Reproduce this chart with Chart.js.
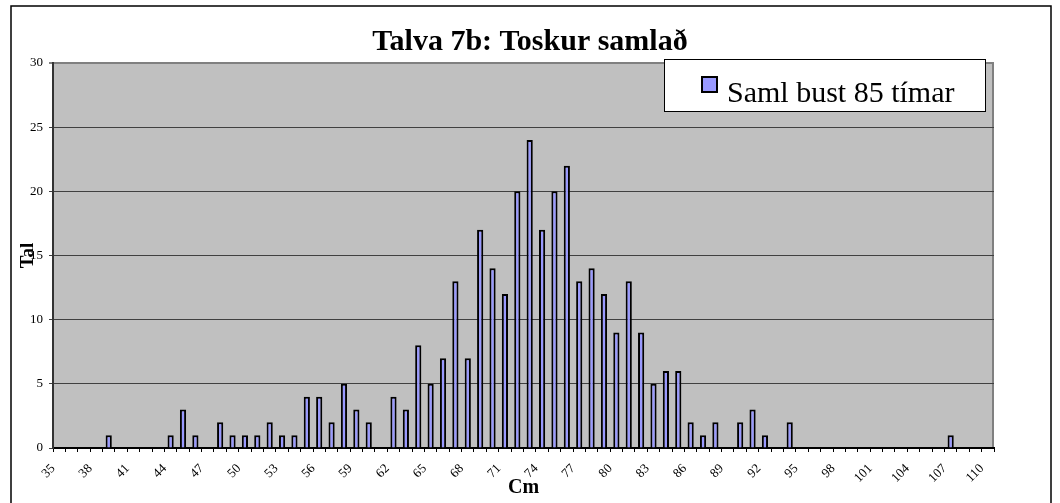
<!DOCTYPE html>
<html lang="is">
<head>
<meta charset="utf-8">
<title>Talva 7b: Toskur samlað</title>
<script src="https://cdn.jsdelivr.net/npm/chart.js@4.4.0/dist/chart.umd.min.js"></script>
<style>
  html, body { margin: 0; padding: 0; background: #fff; }
</style>
</head>
<body>
<canvas id="graf" width="1060" height="503"></canvas>
<script>
// Lengdarflokkar (cm)
const flokkar = ['35','36','37','38','39','40','41','42','43','44',
  '45','46','47','48','49','50','51','52','53','54',
  '55','56','57','58','59','60','61','62','63','64',
  '65','66','67','68','69','70','71','72','73','74',
  '75','76','77','78','79','80','81','82','83','84',
  '85','86','87','88','89','90','91','92','93','94',
  '95','96','97','98','99','100','101','102','103','104',
  '105','106','107','108','109','110'];

// Fjöldi fiska í hverjum flokki
const samlBust = [0,0,0,0,1,0,0,0,0,1,
  3,1,0,2,1,1,1,2,1,1,
  4,4,2,5,3,2,0,4,3,8,
  5,7,13,7,17,14,12,20,24,17,
  20,22,13,14,12,9,13,9,5,6,
  6,2,1,2,0,2,3,1,0,2,
  0,0,0,0,0,0,0,0,0,0,
  0,0,1,0,0,0];

// Merki sem sjást á x-ás
const xMerki = ['35','38','41','44','47','50','53','56','59','62','65','68','71',
  '74','77','80','83','86','89','92','95','98','101','104','107','110'];

const yMerki = [0, 5, 10, 15, 20, 25, 30];

const letur = '"Liberation Serif", "Times New Roman", serif';
Chart.defaults.font.family = letur;
Chart.defaults.color = '#000';

// Grár bakgrunnur, rammi og skýringarkassi (eins og í Excel)
const excelStill = {
  id: 'excelStill',
  beforeDraw(chart) {
    const { ctx, chartArea: a } = chart;
    ctx.save();
    ctx.fillStyle = '#fff';
    ctx.fillRect(0, 0, chart.width, chart.height);
    ctx.fillStyle = '#c0c0c0';
    ctx.fillRect(a.left, a.top, a.right - a.left, a.bottom - a.top);
    ctx.strokeStyle = '#808080';
    ctx.lineWidth = 2;
    ctx.beginPath();
    ctx.moveTo(a.right - 1, a.top);
    ctx.lineTo(a.right - 1, a.bottom);
    ctx.stroke();
    ctx.restore();
  },
  afterDraw(chart) {
    const { ctx } = chart;
    const ds = chart.data.datasets[0];
    ctx.save();
    // ytri rammi
    ctx.strokeStyle = '#000';
    ctx.lineWidth = 1.5;
    ctx.strokeRect(11, 6, 1040, 520);
    // skýring
    ctx.fillStyle = '#fff';
    ctx.fillRect(664, 59, 321, 52);
    ctx.lineWidth = 1;
    ctx.strokeRect(664.5, 59.5, 321, 52);
    ctx.fillStyle = ds.backgroundColor;
    ctx.fillRect(702, 77, 15, 15);
    ctx.lineWidth = 2;
    ctx.strokeRect(702, 77, 15, 15);
    ctx.fillStyle = '#000';
    ctx.font = '30px ' + letur;
    ctx.textBaseline = 'alphabetic';
    ctx.fillText(ds.label, 727, 101.5);
    ctx.restore();
  }
};

new Chart(document.getElementById('graf'), {
  type: 'bar',
  data: {
    labels: flokkar,
    datasets: [{
      label: 'Saml bust 85 tímar',
      data: samlBust,
      backgroundColor: '#9999ff',
      borderColor: '#000',
      borderWidth: 2,
      borderSkipped: 'start',
      barPercentage: 0.5,
      categoryPercentage: 1
    }]
  },
  options: {
    responsive: false,
    animation: false,
    layout: { padding: 0 },
    plugins: {
      legend: { display: false },
      tooltip: { enabled: false },
      title: {
        display: true,
        text: 'Talva 7b: Toskur samlað',
        color: '#000',
        font: { size: 30, weight: 'bold', family: letur },
        padding: { top: 24, bottom: 3 }
      }
    },
    scales: {
      x: {
        afterFit(scale) { scale.height = 55; },
        grid: { drawOnChartArea: false, drawTicks: true, tickLength: 4, color: '#000', offset: true },
        border: { color: '#000', width: 2 },
        ticks: {
          autoSkip: false,
          maxRotation: 45,
          minRotation: 45,
          padding: 9,
          labelOffset: -6,
          font: { size: 13 },
          callback(val) {
            const l = this.getLabelForValue(val);
            return xMerki.includes(l) ? l : '';
          }
        },
        title: {
          display: true,
          text: 'Cm',
          font: { size: 20, weight: 'bold' },
          padding: { top: 0, bottom: 3 }
        }
      },
      y: {
        min: 0,
        max: 30,
        afterFit(scale) { scale.width = 53; },
        afterBuildTicks(scale) { scale.ticks = yMerki.map(v => ({ value: v })); },
        grid: {
          color: ctx => ctx.tick && ctx.tick.value === 30 ? '#808080' : '#404040',
          lineWidth: ctx => ctx.tick && ctx.tick.value === 30 ? 2 : 1,
          tickLength: 4
        },
        border: { color: '#333', width: 2 },
        ticks: { padding: 6, font: { size: 13 } },
        title: {
          display: true,
          text: 'Tal',
          font: { size: 19, weight: 'bold' },
          padding: { top: 17, bottom: 0 }
        }
      },
      // tómur ás hægra megin, heldur plássi svo titill sé fyrir miðju myndar
      haegri: {
        type: 'linear',
        position: 'right',
        afterFit(scale) { scale.width = 66; },
        grid: { display: false },
        border: { display: false },
        ticks: { display: false }
      }
    }
  },
  plugins: [excelStill]
});
</script>
</body>
</html>
